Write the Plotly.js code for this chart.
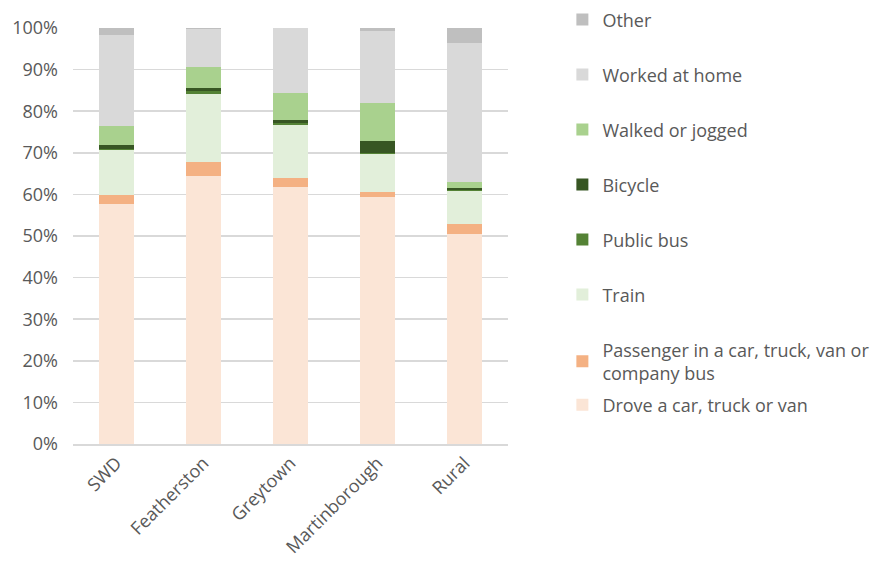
<!DOCTYPE html>
<html><head><meta charset="utf-8">
<script src="https://cdn.plot.ly/plotly-3.0.1.min.js"></script>
<style>html,body{margin:0;padding:0;background:#fff}</style>
</head><body>
<div id="chart" style="width:879px;height:567px"></div>
<script>
const categories = ["SWD", "Featherston", "Greytown", "Martinborough", "Rural"];
const drove      = [57.6, 64.5, 61.9, 59.3, 50.6];
const passenger  = [2.2, 3.3, 2.1, 1.2, 2.3];
const train      = [10.9, 16.3, 12.6, 9.3, 8.0];
const publicBus  = [0.3, 0.7, 0.5, 0.1, 0.1];
const bicycle    = [0.9, 0.7, 0.7, 3.0, 0.6];
const walked     = [4.6, 5.2, 6.6, 9.1, 1.4];
const workedHome = [21.7, 9.1, 15.6, 17.3, 33.5];
const other      = [1.7, 0.2, 0.0, 0.8, 3.6];

const seriesNames = ["Drove a car, truck or van", "Passenger in a car, truck, van or<br>company bus", "Train", "Public bus", "Bicycle", "Walked or jogged", "Worked at home", "Other"];
const seriesValues = [drove, passenger, train, publicBus, bicycle, walked, workedHome, other];
const seriesColors = ["#FBE5D6", "#F4B183", "#E2EFDA", "#548235", "#375623", "#A9D18E", "#D9D9D9", "#BFBFBF"];
const yTickVals = [0, 10, 20, 30, 40, 50, 60, 70, 80, 90, 100];
const yTickText = ["0%", "10%", "20%", "30%", "40%", "50%", "60%", "70%", "80%", "90%", "100%"];

const traces = seriesNames.map((n, i) => ({
  type: "bar",
  name: n,
  x: categories,
  y: seriesValues[i],
  marker: {color: seriesColors[i], line: {width: 0}},
  legendgroup: "g" + i,
  legendrank: 100 - i,
  legend: i === 0 ? "legend2" : "legend",
  hoverinfo: "x+y+name"
}));

const font = {family: "'Open Sans', 'Liberation Sans', sans-serif", size: 18, color: "#595959"};

const layout = {
  width: 879, height: 567,
  margin: {l: 73, r: 371, t: 28, b: 123, autoexpand: false},
  paper_bgcolor: "#fff", plot_bgcolor: "#fff",
  barmode: "stack",
  bargap: 0.6,
  font: font,
  xaxis: {
    tickangle: -45, tickfont: {size: 18, color: "#595959"},
    showgrid: false, showline: true, linecolor: "#D9D9D9", linewidth: 1.5,
    ticks: "", fixedrange: true
  },
  yaxis: {
    range: [0, 100], tickvals: yTickVals, ticktext: yTickText,
    tickfont: {size: 18, color: "#595959"},
    showgrid: true, gridcolor: "#D9D9D9", gridwidth: 1.5,
    zeroline: false, showline: false, ticks: "", ticklabelstandoff: 14, fixedrange: true
  },
  legend: {
    x: 1.125, xanchor: "left", y: 1.064, yanchor: "top",
    traceorder: "grouped", tracegroupgap: 28.6, maxheight: 1000,
    font: {size: 18, color: "#595959"}, bgcolor: "rgba(0,0,0,0)"
  },
  legend2: {
    x: 1.125, xanchor: "left", y: 0.138, yanchor: "top",
    font: {size: 18, color: "#595959"}, bgcolor: "rgba(0,0,0,0)"
  },
  showlegend: true
};

Plotly.newPlot("chart", traces, layout, {displayModeBar: false, staticPlot: true});
</script>
</body></html>
